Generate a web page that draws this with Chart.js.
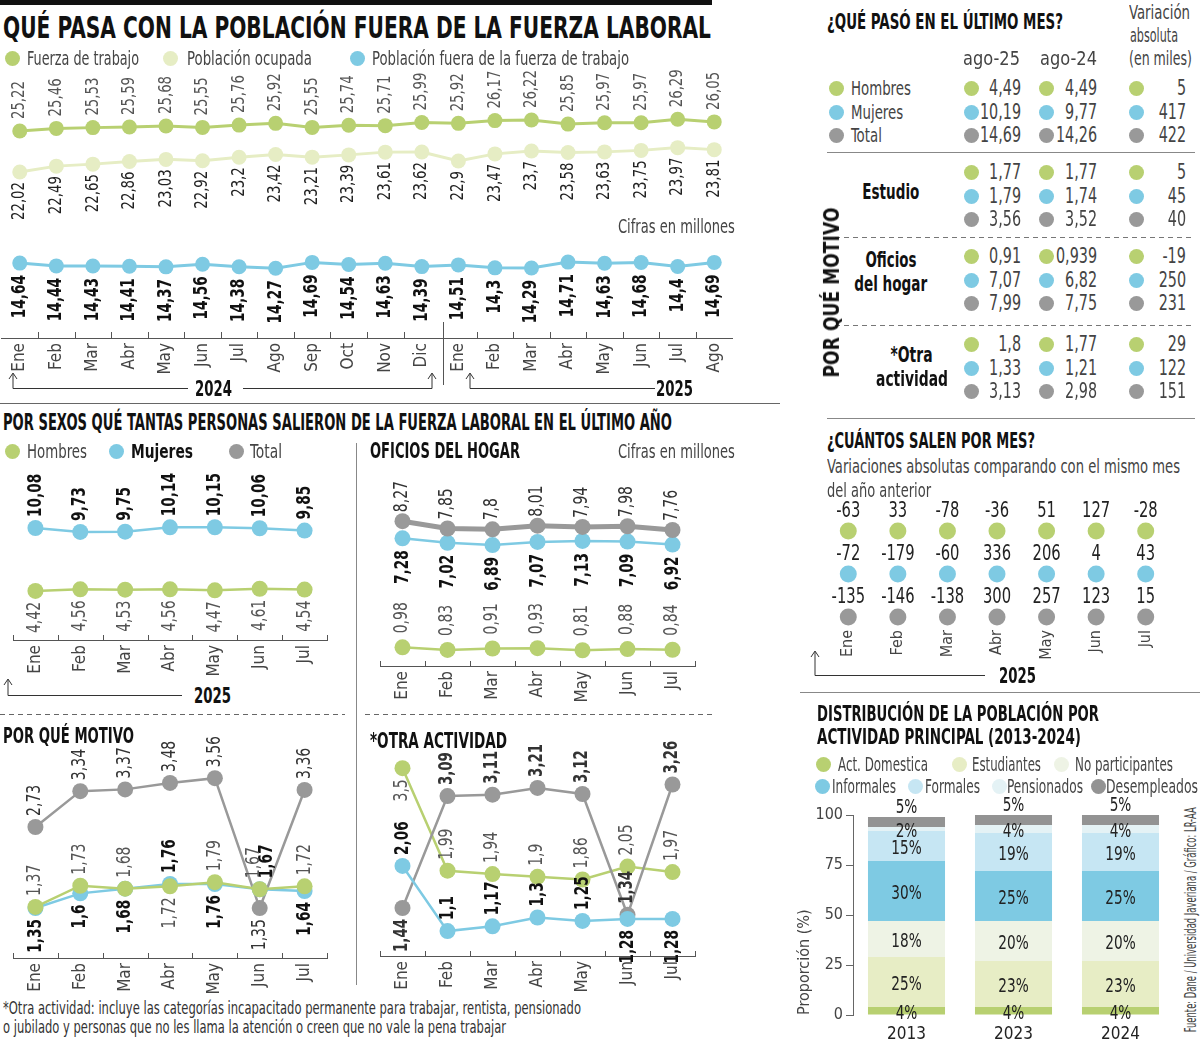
<!DOCTYPE html>
<html><head><meta charset="utf-8">
<script src="https://cdn.jsdelivr.net/npm/chart.js@4.4.1/dist/chart.umd.min.js"></script>
<style>
body{margin:0;background:#fff;}
#page{position:relative;width:1200px;height:1040px;overflow:hidden;font-family:"DejaVu Sans Condensed","Liberation Sans Narrow",sans-serif;color:#222;background:#fff;}
.t{position:absolute;white-space:nowrap;line-height:1;}
.dot{position:absolute;border-radius:50%;}
canvas{position:absolute;}
</style></head>
<body><div id="page">
<svg width="1200" height="1040" style="position:absolute;left:0;top:0" fill="none" stroke="#333" stroke-width="1">
<rect x="0" y="0" width="712" height="5" fill="#111" stroke="none"/>
<line x1="0" y1="403.5" x2="780" y2="403.5" stroke="#666"/>
<line x1="443.5" y1="322" x2="443.5" y2="385" stroke="#555"/>
<path d="M13 374V388.5H188M243 388.5H432V374"/><path d="M9 379L13 373L17 379M428 379L432 373L436 379"/>
<path d="M470 374V388.5H655"/><path d="M466 379L470 373L474 379"/>
<line x1="356.5" y1="443" x2="356.5" y2="985" stroke="#888"/>
<path d="M8 680V695.5H182"/><path d="M4 685L8 679L12 685"/>
<line x1="0" y1="714.5" x2="345" y2="714.5" stroke="#666" stroke-dasharray="5 4"/>
<line x1="365" y1="714.5" x2="712" y2="714.5" stroke="#666" stroke-dasharray="5 4"/>
<line x1="827" y1="152.5" x2="1195" y2="152.5" stroke="#888"/>
<line x1="835" y1="237.5" x2="1195" y2="237.5" stroke="#777" stroke-dasharray="5 4"/>
<line x1="835" y1="325.5" x2="1195" y2="325.5" stroke="#777" stroke-dasharray="5 4"/>
<line x1="827" y1="418.5" x2="1195" y2="418.5" stroke="#888"/>
<path d="M815 652V675.5H985"/><path d="M811 657L815 651L819 657"/>
<line x1="800" y1="692.5" x2="1200" y2="692.5" stroke="#888"/>
</svg>
<canvas id="cTop" width="746" height="323" style="left:-6px;top:55px"></canvas>
<canvas id="cSex" width="330" height="225" style="left:5px;top:455px"></canvas>
<canvas id="cHog" width="331" height="251" style="left:372px;top:455px"></canvas>
<canvas id="cMot" width="330" height="278" style="left:5px;top:720px"></canvas>
<canvas id="cOtr" width="331" height="280" style="left:372px;top:716px"></canvas>
<canvas id="cCua" width="364" height="164" style="left:815px;top:500px"></canvas>
<canvas id="cBar" width="379" height="250" style="left:795px;top:790px"></canvas>
</div>
<script>
// ---------------- DATA ----------------
const topMonths = ['Ene','Feb','Mar','Abr','May','Jun','Jul','Ago','Sep','Oct','Nov','Dic','Ene','Feb','Mar','Abr','May','Jun','Jul','Ago'];
const fuerzaTrabajo = [25.22,25.46,25.53,25.59,25.68,25.55,25.76,25.92,25.55,25.74,25.71,25.99,25.92,26.17,26.22,25.85,25.97,25.97,26.29,26.05];
const poblacionOcupada = [22.02,22.49,22.65,22.86,23.03,22.92,23.2,23.42,23.21,23.39,23.61,23.62,22.9,23.47,23.7,23.58,23.63,23.75,23.97,23.81];
const fueraFuerza = [14.64,14.44,14.43,14.41,14.37,14.56,14.38,14.27,14.69,14.54,14.63,14.39,14.51,14.3,14.29,14.71,14.63,14.68,14.4,14.69];

const months2025 = ['Ene','Feb','Mar','Abr','May','Jun','Jul'];
const sexHombres = [4.42,4.56,4.53,4.56,4.47,4.61,4.54];
const sexMujeres = [10.08,9.73,9.75,10.14,10.15,10.06,9.85];

const hogarTotal = [8.27,7.85,7.8,8.01,7.94,7.98,7.76];
const hogarMujeres = [7.28,7.02,6.89,7.07,7.13,7.09,6.92];
const hogarHombres = [0.98,0.83,0.91,0.93,0.81,0.88,0.84];

const estudioTotal = [2.73,3.34,3.37,3.48,3.56,1.35,3.36];
const estudioMujeres = [1.35,1.6,1.68,1.76,1.76,1.67,1.64];
const estudioHombres = [1.37,1.73,1.68,1.72,1.79,1.67,1.72];

const otraTotal = [1.44,3.09,3.11,3.21,3.12,1.34,3.26];
const otraMujeres = [2.06,1.1,1.17,1.3,1.25,1.28,1.28];
const otraHombres = [3.5,1.99,1.94,1.9,1.86,2.05,1.97];

const grupos = ['Hombres','Mujeres','Total'];
const resumenAgo25 = [4.49,10.19,14.69], resumenAgo24 = [4.49,9.77,14.26], resumenVar = [5,417,422];
const estudioAgo25 = [1.77,1.79,3.56], estudioAgo24 = [1.77,1.74,3.52], estudioVar = [5,45,40];
const hogarAgo25 = [0.91,7.07,7.99], hogarAgo24 = [0.939,6.82,7.75], hogarVar = [-19,250,231];
const otraAgo25 = [1.8,1.33,3.13], otraAgo24 = [1.77,1.21,2.98], otraVar = [29,122,151];

const cuantosHombres = [-63,33,-78,-36,51,127,-28];
const cuantosMujeres = [-72,-179,-60,336,206,4,43];
const cuantosTotal = [-135,-146,-138,300,257,123,15];

const distYears = ['2013','2023','2024'];
const distCats = ['Act. Domestica','Estudiantes','No participantes','Informales','Formales','Pensionados','Desempleados'];
const actDomestica = [4,4,4];
const estudiantes = [25,23,23];
const noParticipantes = [18,20,20];
const informales = [30,25,25];
const formales = [15,19,19];
const pensionados = [2,4,4];
const desempleados = [5,5,5];
const distTicks = [0,25,50,75,100];

// ---------------- STYLE ----------------
const F = '"DejaVu Sans Condensed","Liberation Sans Narrow",sans-serif';
const GREEN='#b8d071', LIGHT='#e6edc4', BLUE='#7ecae3', GRAY='#999999';
const distColors = ['#b8d071','#e7edc5','#eef3e5','#7ecae3','#c6e6f3','#e4f2f5','#939393'];
const fmt = v => String(v).replace('.',',');
const page = document.getElementById('page');

const pointLabels = {
  id:'pointLabels',
  afterDatasetsDraw(chart){
    const ctx = chart.ctx;
    chart.data.datasets.forEach((ds,i)=>{
      const L = ds.lab; if(!L) return;
      chart.getDatasetMeta(i).data.forEach((pt,j)=>{
        const pos = Array.isArray(L.pos)?L.pos[j]:L.pos;
        const dx = L.dx?L.dx[j]:0;
        ctx.save();
        ctx.translate(pt.x+dx, pt.y+(pos==='up'?-L.off:L.off));
        ctx.rotate(-Math.PI/2);
        ctx.scale(L.sx||1,1);
        ctx.font = L.font; ctx.fillStyle = L.color;
        ctx.textBaseline='middle';
        ctx.textAlign = pos==='up'?'left':'right';
        ctx.fillText(fmt(ds.data[j]),0,0);
        ctx.restore();
      });
    });
  }
};
const upTicks = {
  id:'upTicks',
  afterDraw(chart,args,o){
    if(!o || !o.len) return;
    const x = chart.scales.x, ctx = chart.ctx, n = chart.data.labels.length;
    ctx.save(); ctx.strokeStyle=o.color||'#555'; ctx.lineWidth=1;
    for(let i=0;i<=n;i++){
      if((i===0||i===n)&&!o.ends) continue;
      if(o.skip && o.skip.includes(i)) continue;
      let px = i===0?x.left:(i===n?x.right:(x.getPixelForValue(i-1)+x.getPixelForValue(i))/2);
      px = Math.round(px)+0.5;
      ctx.beginPath(); ctx.moveTo(px,x.top); ctx.lineTo(px,x.top-o.len); ctx.stroke();
    }
    ctx.restore();
  }
};
function ds(label,data,color,axis,lw,r,lab,order){
  return {label,data,yAxisID:axis,borderColor:color,backgroundColor:color,pointBackgroundColor:color,
    borderWidth:lw,pointRadius:r,pointHoverRadius:r,pointBorderWidth:0,clip:false,lab,order};
}
function xAxis(h,size){
  return {offset:true,grid:{display:false,drawTicks:false},border:{display:true,color:'#555'},
    ticks:{minRotation:90,maxRotation:90,padding:5,font:{family:F,size:size||17},color:'#444'},
    afterFit:s=>{s.height=h;}};
}
function baseOpts(scales,ticks,padTop){
  return {responsive:false,animation:false,layout:{padding:{top:padTop||0}},events:[],
    plugins:{legend:{display:false},tooltip:{enabled:false},upTicks:ticks},scales};
}
const THIN = {font:'19px '+F,color:'#555',sx:0.82};
const BOLD = {font:'bold 20px '+F,color:'#111',sx:0.76};
const R = 8;

// Top chart
new Chart(document.getElementById('cTop'),{
  type:'line',
  data:{labels:topMonths,datasets:[
    ds('Fuerza de trabajo',fuerzaTrabajo,GREEN,'yF',3,7.5,{pos:'up',off:12,font:'18px '+F,color:'#555',sx:0.82},2),
    ds('Población ocupada',poblacionOcupada,LIGHT,'yO',3,7.5,{pos:'down',off:10,font:'18px '+F,color:'#222',sx:0.82},1),
    ds('Población fuera de la fuerza de trabajo',fueraFuerza,BLUE,'yP',3,7.5,{pos:'down',off:12,font:'bold 19px '+F,color:'#111',sx:0.8},0)
  ]},
  options:baseOpts({x:xAxis(40),
    yF:{display:false,min:6.4,max:30.77},yO:{display:false,min:8.74,max:30.18},yP:{display:false,min:9.29,max:28.43}},
    {len:6,color:'#555',skip:[12]},15),
  plugins:[pointLabels,upTicks]
});

// Sexos
new Chart(document.getElementById('cSex'),{
  type:'line',
  data:{labels:months2025,datasets:[
    ds('Mujeres',sexMujeres,BLUE,'y',2.5,R,{pos:'up',off:11,...BOLD}),
    ds('Hombres',sexHombres,GREEN,'y',2.5,R,{pos:'down',off:11,...THIN})
  ]},
  options:baseOpts({x:xAxis(40),y:{display:false,min:0,max:15.3}},{len:5,color:'#555',ends:true},15),
  plugins:[pointLabels,upTicks]
});

// Oficios del hogar
new Chart(document.getElementById('cHog'),{
  type:'line',
  data:{labels:months2025,datasets:[
    ds('Total',hogarTotal,GRAY,'y',5,R,{pos:'up',off:9,font:'19px '+F,color:'#333',sx:0.82},0),
    ds('Mujeres',hogarMujeres,BLUE,'y',2.5,R,{pos:'down',off:12,...BOLD},1),
    ds('Hombres',hogarHombres,GREEN,'y',2.5,R,{pos:'up',off:14,...THIN},2)
  ]},
  options:baseOpts({x:xAxis(40),y:{display:false,min:-0.1,max:11.23}},{len:5,color:'#555',ends:true},15),
  plugins:[pointLabels,upTicks]
});

// Por qué motivo (Estudio)
new Chart(document.getElementById('cMot'),{
  type:'line',
  data:{labels:months2025,datasets:[
    ds('Total',estudioTotal,GRAY,'y',2.5,R,{pos:['up','up','up','up','up','down','up'],off:11,font:'19px '+F,color:'#333',sx:0.82},2),
    ds('Mujeres',estudioMujeres,BLUE,'y',2.5,R,{pos:['down','down','down','up','down','up','down'],dx:[0,0,0,0,0,7,0],off:11,...BOLD},1),
    ds('Hombres',estudioHombres,GREEN,'y',2.5,R,{pos:['up','up','up','down','up','up','up'],dx:[0,0,0,0,0,-6,0],off:11,...THIN},0)
  ]},
  options:baseOpts({x:xAxis(40),y:{display:false,min:0.5,max:3.87}},{len:5,color:'#555',ends:true},40),
  plugins:[pointLabels,upTicks]
});

// Otra actividad
new Chart(document.getElementById('cOtr'),{
  type:'line',
  data:{labels:months2025,datasets:[
    ds('Total',otraTotal,GRAY,'y',2.5,R,{pos:['down','up','up','up','up','up','up'],off:11,font:'bold 19px '+F,color:'#333',sx:0.78},1),
    ds('Mujeres',otraMujeres,BLUE,'y',2.5,R,{pos:['up','up','up','up','up','down','down'],off:11,...BOLD},0),
    ds('Hombres',otraHombres,GREEN,'y',2.5,R,{pos:['down','up','up','up','up','up','up'],off:11,...THIN},2)
  ]},
  options:baseOpts({x:xAxis(40),y:{display:false,min:0.733,max:3.68}},{len:5,color:'#555',ends:true},40),
  plugins:[pointLabels,upTicks]
});

// ¿Cuántos salen por mes?
const dotRow = (vals,grp,color)=>({label:grp,data:months2025.map(m=>({x:m,y:grp})),vals,
  showLine:false,pointRadius:8.5,pointHoverRadius:8.5,pointBorderWidth:0,pointBackgroundColor:color,backgroundColor:color,borderColor:color,clip:false});
const valueLabels = {
  id:'valueLabels',
  afterDatasetsDraw(chart){
    const ctx=chart.ctx;
    chart.data.datasets.forEach((d,i)=>{
      chart.getDatasetMeta(i).data.forEach((pt,j)=>{
        ctx.save(); ctx.translate(pt.x,pt.y-19); ctx.scale(0.78,1);
        ctx.font='21px '+F; ctx.fillStyle='#222'; ctx.textAlign='center'; ctx.textBaseline='middle';
        ctx.fillText(fmt(d.vals[j]),0,0); ctx.restore();
      });
    });
  }
};
new Chart(document.getElementById('cCua'),{
  type:'line',
  data:{labels:months2025,datasets:[dotRow(cuantosHombres,'Hombres',GREEN),dotRow(cuantosMujeres,'Mujeres',BLUE),dotRow(cuantosTotal,'Total',GRAY)]},
  options:{responsive:false,animation:false,events:[],layout:{padding:{top:31}},
    plugins:{legend:{display:false},tooltip:{enabled:false}},
    scales:{x:{offset:true,grid:{display:false,drawTicks:false},border:{display:false},
      ticks:{minRotation:90,maxRotation:90,padding:13,font:{family:F,size:16},color:'#444'},afterFit:s=>{s.height=47;}},
      y:{type:'category',labels:grupos,offset:false,display:false}}},
  plugins:[valueLabels]
});

// Distribución
const distSeries=[actDomestica,estudiantes,noParticipantes,informales,formales,pensionados,desempleados];
const segLabels = {
  id:'segLabels',
  afterDatasetsDraw(chart){
    const ctx=chart.ctx, n=chart.data.datasets.length;
    chart.data.datasets.forEach((d,i)=>{
      chart.getDatasetMeta(i).data.forEach((bar,j)=>{
        const y = i===n-1 ? bar.y-9 : (bar.y+bar.base)/2+3;
        ctx.save(); ctx.translate(bar.x,y); ctx.scale(0.76,1);
        ctx.font='20px '+F; ctx.fillStyle='#222'; ctx.textAlign='center'; ctx.textBaseline='middle';
        ctx.fillText(d.data[j]+'%',0,0); ctx.restore();
      });
    });
  }
};
new Chart(document.getElementById('cBar'),{
  type:'bar',
  data:{labels:distYears,datasets:distCats.map((c,i)=>({label:c,data:distSeries[i],backgroundColor:distColors[i],borderWidth:0,barPercentage:0.72,categoryPercentage:1}))},
  options:{responsive:false,animation:false,events:[],layout:{padding:{top:25}},
    plugins:{legend:{display:false},tooltip:{enabled:false}},
    scales:{x:{stacked:true,grid:{display:false},border:{display:false},ticks:{padding:1,font:{family:F,size:17},color:'#222'},afterFit:s=>{s.height=25;}},
      y:{stacked:true,min:0,max:100,afterBuildTicks:s=>{s.ticks=distTicks.map(v=>({value:v}));},
        grid:{drawOnChartArea:false,tickLength:7,color:'#666'},border:{display:true,color:'#666'},
        ticks:{padding:3,font:{family:F,size:16},color:'#444'},
        title:{display:true,text:'Proporción (%)',align:'start',font:{family:F,size:16},color:'#444',padding:0},
        afterFit:s=>{s.width=58;}}}},
  plugins:[segLabels]
});

// ---------------- TEXT ----------------
const fits=[];
function T(text,x,y,o={}){
  const d=document.createElement('div'); d.className='t'; d.textContent=text;
  const size=o.size||19; d.style.fontSize=size+'px'; d.style.fontWeight=o.bold?'700':'400';
  d.style.color=o.color||'#222'; d.style.top=(y-0.49*size)+'px';
  page.appendChild(d); fits.push({d,x,w:o.w,sx:o.sx,align:o.align||'left',rot:o.rot,y,size}); return d;
}
function D(x,y,color,r){const d=document.createElement('div');d.className='dot';r=r||7.5;
  d.style.cssText+=`left:${x-r}px;top:${y-r}px;width:${2*r}px;height:${2*r}px;background:${color}`;page.appendChild(d);}

T('QUÉ PASA CON LA POBLACIÓN FUERA DE LA FUERZA LABORAL',3,28,{size:30,bold:1,w:708,color:'#111'});
D(12,58,GREEN);T('Fuerza de trabajo',27,58,{w:112,color:'#444'});
D(170,58,LIGHT);T('Población ocupada',187,58,{w:125,color:'#444'});
D(357,58,BLUE);T('Población fuera de la fuerza de trabajo',372,58,{w:257,color:'#444'});
T('Cifras en millones',735,226,{w:117,align:'right',color:'#444'});
T('2024',214,389,{size:22,bold:1,w:37,align:'center',color:'#111'});
T('2025',675,389,{size:22,bold:1,w:37,align:'center',color:'#111'});

T('POR SEXOS QUÉ TANTAS PERSONAS SALIERON DE LA FUERZA LABORAL EN EL ÚLTIMO AÑO',3,422,{size:23,bold:1,w:669,color:'#111'});
D(12,451,GREEN);T('Hombres',27,451,{w:60,color:'#444'});
D(116,451,BLUE);T('Mujeres',131,451,{w:62,bold:1,color:'#111'});
D(236,451,GRAY);T('Total',250,451,{w:32,color:'#444'});
T('OFICIOS DEL HOGAR',370,451,{size:22,bold:1,w:150,color:'#111'});
T('Cifras en millones',735,451,{w:117,align:'right',color:'#444'});
T('2025',213,696,{size:22,bold:1,w:37,align:'center',color:'#111'});
T('POR QUÉ MOTIVO',3,736,{size:22,bold:1,w:131,color:'#111'});
T('*OTRA ACTIVIDAD',370,741,{size:22,bold:1,w:137,color:'#111'});
T('*Otra actividad: incluye las categorías incapacitado permanente para trabajar, rentista, pensionado',3,1008,{size:17,w:578,color:'#333'});
T('o jubilado y personas que no les llama la atención o creen que no vale la pena trabajar',3,1027,{size:17,w:503,color:'#333'});

// Right column table
T('¿QUÉ PASÓ EN EL ÚLTIMO MES?',827,22,{size:22,bold:1,w:236,color:'#111'});
T('Variación',1129,12,{size:20,w:61,color:'#444'});
T('absoluta',1130,35,{size:20,w:48,color:'#444'});
T('(en miles)',1129,58,{size:20,w:63,color:'#444'});
T('ago-25',963,58,{size:20,w:57,color:'#444'});
T('ago-24',1040,58,{size:20,w:57,color:'#444'});
const dotCols=[GREEN,BLUE,GRAY];
const blocks=[
  {ys:[88,112,135],a:resumenAgo25,b:resumenAgo24,c:resumenVar,names:true},
  {ys:[172,196,219],a:estudioAgo25,b:estudioAgo24,c:estudioVar},
  {ys:[256,280,303],a:hogarAgo25,b:hogarAgo24,c:hogarVar},
  {ys:[344,368,391],a:otraAgo25,b:otraAgo24,c:otraVar}
];
blocks.forEach(bk=>{
  bk.ys.forEach((y,k)=>{
    if(bk.names){D(836,y,dotCols[k]);T(grupos[k],851,y,{size:20,sx:0.74,color:'#444'});}
    D(971,y,dotCols[k]);T(fmt(bk.a[k]),1021,y,{size:21,sx:0.76,align:'right',color:'#444'});
    D(1046,y,dotCols[k]);T(fmt(bk.b[k]),1097,y,{size:21,sx:0.76,align:'right',color:'#444'});
    D(1136,y,dotCols[k]);T(fmt(bk.c[k]),1186,y,{size:21,sx:0.76,align:'right',color:'#444'});
  });
});
T('Estudio',891,192,{size:21,bold:1,w:57,align:'center',color:'#111'});
T('Oficios',891,260,{size:21,bold:1,w:51,align:'center',color:'#111'});
T('del hogar',891,284,{size:21,bold:1,w:73,align:'center',color:'#111'});
T('*Otra',912,355,{size:21,bold:1,w:42,align:'center',color:'#111'});
T('actividad',912,379,{size:21,bold:1,w:72,align:'center',color:'#111'});
T('POR QUÉ MOTIVO',833,293,{size:21,bold:1,w:170,rot:1,color:'#111'});

T('¿CUÁNTOS SALEN POR MES?',827,441,{size:22,bold:1,w:208,color:'#111'});
T('Variaciones absolutas comparando con el mismo mes',827,466,{size:20,w:353,color:'#444'});
T('del año anterior',827,490,{size:20,w:104,color:'#444'});
T('2025',1018,676,{size:22,bold:1,w:37,align:'center',color:'#111'});

T('DISTRIBUCIÓN DE LA POBLACIÓN POR',817,714,{size:22,bold:1,w:282,color:'#111'});
T('ACTIVIDAD PRINCIPAL (2013-2024)',817,737,{size:22,bold:1,w:264,color:'#111'});
const legPos=[[823,764,838,90],[959,764,972,69],[1061,764,1075,98],[822,786,832,64],[915,786,925,55],[999,786,1007,76],[1098,786,1106,92]];
distCats.forEach((c,i)=>{const p=legPos[i];D(p[0],p[1],distColors[i]);T(c,p[2],p[1],{size:19,w:p[3],color:'#444'});});
T('Fuente: Dane / Universidad Javeriana / Gráfico: LR-AA',1191,920,{size:16,w:225,rot:1,color:'#444'});

function applyFits(){
  fits.forEach(f=>{
    const d=f.d; d.style.transform='none';
    const nat=d.getBoundingClientRect().width;
    const s=f.w?f.w/nat:(f.sx||1);
    if(f.rot){
      d.style.left=(f.x-nat/2)+'px'; d.style.top=(f.y-f.size*0.55)+'px';
      d.style.transformOrigin='50% 55%'; d.style.transform=`rotate(-90deg) scaleX(${s})`;
      return;
    }
    if(f.align==='left'){d.style.left=f.x+'px';d.style.transformOrigin='0 50%';}
    else if(f.align==='right'){d.style.left=(f.x-nat)+'px';d.style.transformOrigin='100% 50%';}
    else {d.style.left=(f.x-nat/2)+'px';d.style.transformOrigin='50% 50%';}
    d.style.transform=`scaleX(${s})`;
  });
}
applyFits();
if(document.fonts&&document.fonts.ready) document.fonts.ready.then(applyFits);
</script>
</body></html>
